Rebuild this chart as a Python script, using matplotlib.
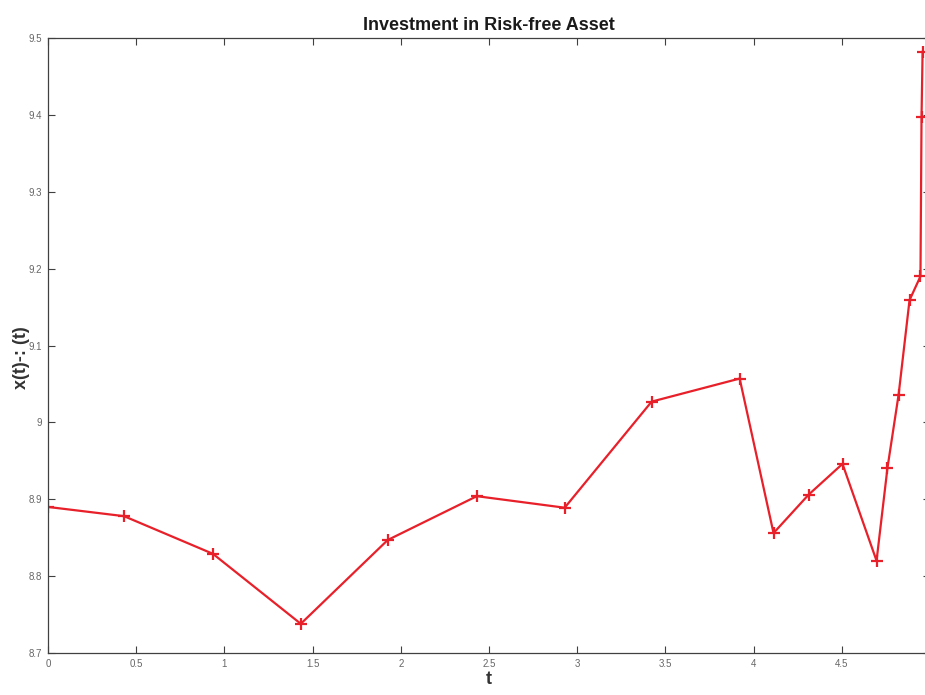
import matplotlib
matplotlib.use("Agg")
import matplotlib.pyplot as plt

t = [0.0, 0.431, 0.935, 1.433, 1.926, 2.431, 2.929, 3.422, 3.921, 4.113, 4.312,
     4.504, 4.697, 4.759, 4.822, 4.884, 4.946, 4.952, 4.958]
x = [8.890, 8.878, 8.829, 8.738, 8.847, 8.904, 8.889, 9.027, 9.057, 8.856, 8.906,
     8.946, 8.820, 8.941, 9.036, 9.159, 9.190, 9.397, 9.482]
xticks = [0, 0.5, 1, 1.5, 2, 2.5, 3, 3.5, 4, 4.5, 5]
xticklabels = ["0", "0.5", "1", "1.5", "2", "2.5", "3", "3.5", "4", "4.5", "5"]
yticks = [8.7, 8.8, 8.9, 9.0, 9.1, 9.2, 9.3, 9.4, 9.5]
yticklabels = ["8.7", "8.8", "8.9", "9", "9.1", "9.2", "9.3", "9.4", "9.5"]

plt.rcParams['font.family'] = ['Liberation Sans', 'DejaVu Sans']
fig = plt.figure(figsize=(9.25, 6.95), dpi=100)
ax = fig.add_axes([48/925, 1-653/695, (930-48)/925, (653-38)/695])
ax.plot(t, x, color='#e8202a', lw=1.6, marker='+', ms=8, mew=1.6)
ax.set_xlim(0, 5)
ax.set_ylim(8.7, 9.5)
ax.set_xticks(xticks)
ax.set_xticklabels(xticklabels)
ax.set_yticks(yticks)
ax.set_yticklabels(yticklabels)
ax.tick_params(direction='in', top=True, right=True, length=5, width=0.8,
               colors='#404040', labelsize=7, labelcolor='#666666', pad=4)
for s in ax.spines.values():
    s.set_color('#404040')
    s.set_linewidth(0.9)
ax.set_title('Investment in Risk-free Asset', fontsize=13, fontweight='bold',
             color='#1a1a1a', pad=6)
ax.set_xlabel('t', fontsize=13, fontweight='bold', color='#333333', labelpad=2)
ax.set_ylabel('x(t)-: (t)', fontsize=13, fontweight='bold', color='#333333')
ax.yaxis.set_label_coords(-0.02, 0.48)
fig.savefig('out.png', dpi=100)
